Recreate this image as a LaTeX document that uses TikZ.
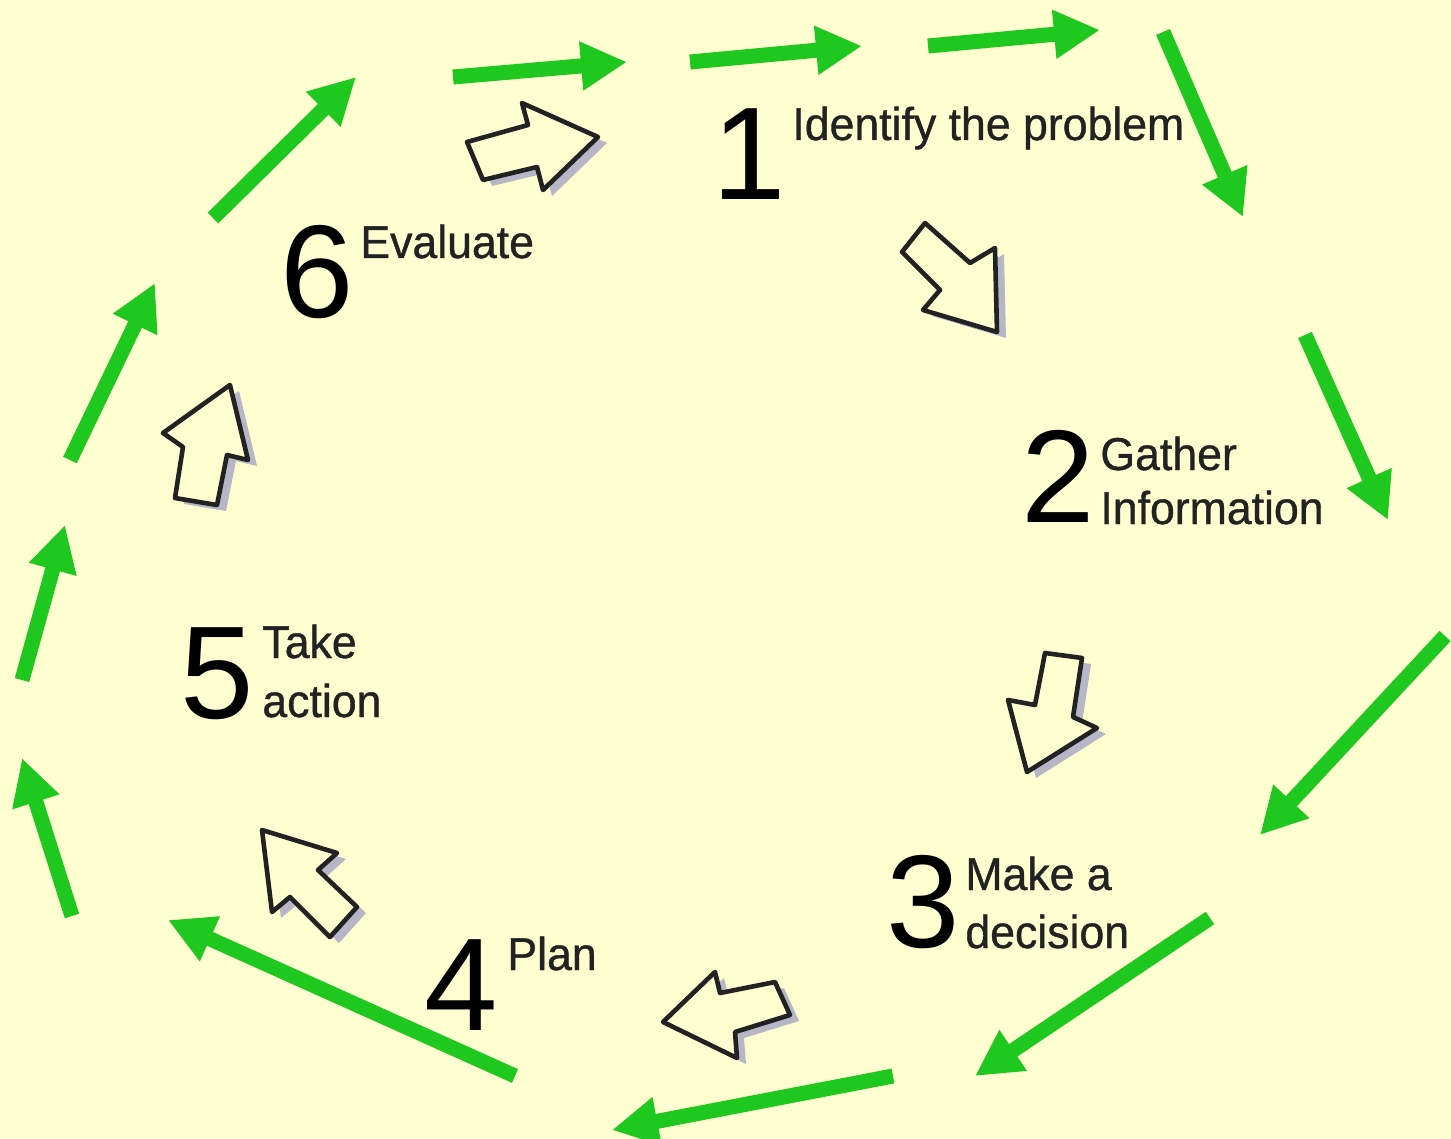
\documentclass[tikz,border=0pt]{standalone}
\usepackage{fontspec}
\setmainfont{Liberation Sans}
\newfontfamily\labfont[FakeStretch=0.97,FakeBold=0.8]{Liberation Sans}
\usetikzlibrary{arrows.meta}
\definecolor{bgc}{HTML}{FEFED0}
\definecolor{grn}{HTML}{1EC81E}
\definecolor{shd}{HTML}{B6B6C6}
\definecolor{inkc}{HTML}{222222}
\begin{document}
\begin{tikzpicture}[x=0.5pt,y=-0.5pt,
  garrow/.style={draw=grn,line width=7.5pt,-{Triangle[length=23pt,width=23pt]}},
  blk/.style={draw=inkc,line width=2.3pt,fill=bgc,line join=round},
  blkshadow/.style={fill=shd,shift={(9,6)}},
  digit/.style={inner sep=0pt,anchor=base,text=black,font=\fontsize{66}{66}\selectfont},
  lab/.style={inner sep=0pt,anchor=base west,text=inkc,font=\labfont\fontsize{23}{27}\selectfont}]
\fill[bgc] (0,0) rectangle (1451,1139);
\useasboundingbox (0,0) rectangle (1451,1139);

% green cycle arrows
\coordinate (g1s) at (453,77);   \coordinate (g1e) at (627,62);
\coordinate (g2s) at (690,62);   \coordinate (g2e) at (862,46);
\coordinate (g3s) at (928,46);   \coordinate (g3e) at (1100,30);
\coordinate (g4s) at (1163,32);  \coordinate (g4e) at (1243,217);
\coordinate (g5s) at (1305,335); \coordinate (g5e) at (1388,520);
\coordinate (g6s) at (1445,636); \coordinate (g6e) at (1260,835);
\coordinate (g7s) at (1210,918); \coordinate (g7e) at (975,1076);
\coordinate (g8s) at (893,1076); \coordinate (g8e) at (612,1130);
\coordinate (g9s) at (515,1076); \coordinate (g9e) at (168,920);
\coordinate (g10s) at (72,916);  \coordinate (g10e) at (22,758);
\coordinate (g11s) at (22,680);  \coordinate (g11e) at (65,525);
\coordinate (g12s) at (70,460);  \coordinate (g12e) at (155,283);
\coordinate (g13s) at (213,218); \coordinate (g13e) at (356,77);
\foreach \i in {1,...,13} {\draw[garrow] (g\i s) -- (g\i e);}

% block arrows (shadow then outline)
\foreach \s in {blkshadow,blk} {
  \path[\s] (467,142) -- (528,125) -- (522,103) -- (598,137) -- (543,190) -- (537,167) -- (483,180) -- cycle;
  \path[\s] (925,223) -- (970,263) -- (995,248) -- (997,332) -- (923,310) -- (940,290) -- (902,252) -- cycle;
  \path[\s] (1045,653) -- (1082,658) -- (1073,717) -- (1097,728) -- (1027,772) -- (1008,700) -- (1035,705) -- cycle;
  \path[\s] (775,982) -- (790,1015) -- (735,1032) -- (737,1058) -- (663,1022) -- (715,972) -- (720,993) -- cycle;
  \path[\s] (262,830) -- (337,853) -- (318,870) -- (357,907) -- (330,937) -- (290,897) -- (272,912) -- cycle;
  \path[\s] (230,385) -- (248,460) -- (227,455) -- (217,505) -- (175,498) -- (183,447) -- (163,433) -- cycle;
}

% step labels
\node[digit] (d1) at (749,200) {1};
\node[lab] (t1) at (792,140) {Identify the problem};
\node[digit] (d6) at (317,318) {6};
\node[lab] (t6) at (360,258) {Evaluate};
\node[digit] (d2) at (1058,522) {2};
\node[lab] (t2a) at (1100,470) {Gather};
\node[lab] (t2b) at (1100,524) {Information};
\node[digit] (d5) at (217,718) {5};
\node[lab] (t5a) at (262,658) {Take};
\node[lab] (t5b) at (262,717) {action};
\node[digit] (d3) at (923,947) {3};
\node[lab] (t3a) at (965,890) {Make a};
\node[lab] (t3b) at (965,948) {decision};
\node[digit] (d4) at (461,1030) {4};
\node[lab] (t4) at (507,970) {Plan};
\end{tikzpicture}
\end{document}
